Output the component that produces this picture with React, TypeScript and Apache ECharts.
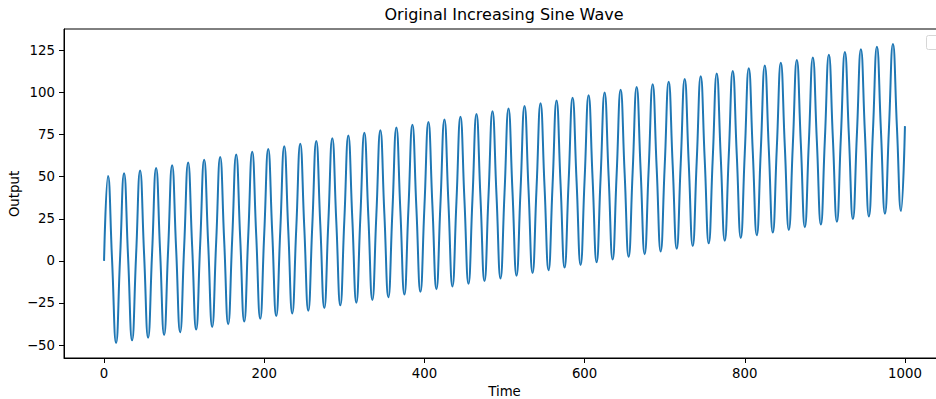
import React, { useEffect, useRef } from "react";
import * as echarts from "echarts";

// Values read from the picture: the wave is sampled at its quarter-period points
// (every 5 time units): midline crossings, peaks and troughs.
const sampleStep = 5;
const midValues = [
  0, 0.8, 1.6, 2.4, 3.2, 4, 4.8, 5.6, 6.4, 7.2, 8, 8.8, 9.6, 10.4, 11.2, 12, 12.8, 13.6, 14.4, 15.2,
  16, 16.8, 17.6, 18.4, 19.2, 20, 20.8, 21.6, 22.4, 23.2, 24, 24.8, 25.6, 26.4, 27.2, 28, 28.8, 29.6, 30.4, 31.2,
  32, 32.8, 33.6, 34.4, 35.2, 36, 36.8, 37.6, 38.4, 39.2, 40, 40.8, 41.6, 42.4, 43.2, 44, 44.8, 45.6, 46.4, 47.2,
  48, 48.8, 49.6, 50.4, 51.2, 52, 52.8, 53.6, 54.4, 55.2, 56, 56.8, 57.6, 58.4, 59.2, 60, 60.8, 61.6, 62.4, 63.2,
  64, 64.8, 65.6, 66.4, 67.2, 68, 68.8, 69.6, 70.4, 71.2, 72, 72.8, 73.6, 74.4, 75.2, 76, 76.8, 77.6, 78.4, 79.2,
  80,
];
const peakValues = [
  50.4, 52, 53.6, 55.2, 56.8, 58.4, 60, 61.6, 63.2, 64.8, 66.4, 68, 69.6, 71.2, 72.8, 74.4, 76, 77.6, 79.2, 80.8,
  82.4, 84, 85.6, 87.2, 88.8, 90.4, 92, 93.6, 95.2, 96.8, 98.4, 100, 101.6, 103.2, 104.8, 106.4, 108, 109.6, 111.2, 112.8,
  114.4, 116, 117.6, 119.2, 120.8, 122.4, 124, 125.6, 127.2, 128.8,
];
const troughValues = [
  -48.8, -47.2, -45.6, -44, -42.4, -40.8, -39.2, -37.6, -36, -34.4, -32.8, -31.2, -29.6, -28, -26.4, -24.8, -23.2, -21.6, -20, -18.4,
  -16.8, -15.2, -13.6, -12, -10.4, -8.8, -7.2, -5.6, -4, -2.4, -0.8, 0.8, 2.4, 4, 5.6, 7.2, 8.8, 10.4, 12, 13.6,
  15.2, 16.8, 18.4, 20, 21.6, 23.2, 24.8, 26.4, 28, 29.6,
];
const xTicks = [0, 200, 400, 600, 800, 1000];
const yTicks = [-50, -25, 0, 25, 50, 75, 100, 125];

function buildSeries(): [number, number][] {
  const out: [number, number][] = [];
  for (let k = 0; k < peakValues.length; k++) {
    const base = k * 4;
    out.push([base * sampleStep, midValues[2 * k]]);
    out.push([(base + 1) * sampleStep, peakValues[k]]);
    out.push([(base + 2) * sampleStep, midValues[2 * k + 1]]);
    out.push([(base + 3) * sampleStep, troughValues[k]]);
  }
  out.push([peakValues.length * 4 * sampleStep, midValues[midValues.length - 1]]);
  return out;
}

const FONT = "DejaVu Sans";
const TICK_FS = 13.3;

export default function App() {
  const ref = useRef<HTMLDivElement>(null);
  useEffect(() => {
    document.body.style.margin = "0";
    const chart = echarts.init(ref.current!, null, { renderer: "svg" });
    chart.setOption({
      animation: false,
      backgroundColor: "#ffffff",
      textStyle: { fontFamily: FONT },
      grid: {
        left: 64,
        top: 29,
        width: 881,
        height: 329,
        outerBoundsMode: "none",
        containLabel: false,
        show: true,
        borderColor: "#000",
        borderWidth: 1,
        backgroundColor: "transparent",
      },
      xAxis: {
        type: "value",
        min: -50,
        max: 1050,
        name: "Time",
        nameLocation: "middle",
        nameGap: 24,
        nameTextStyle: { fontSize: TICK_FS, color: "#000", fontFamily: FONT },
        axisLine: { show: true, onZero: false, lineStyle: { color: "#000", width: 1 } },
        axisTick: { show: true, customValues: xTicks, length: 5, lineStyle: { color: "#000", width: 1 } },
        axisLabel: {
          customValues: xTicks,
          margin: 9,
          fontSize: TICK_FS,
          color: "#000",
          fontFamily: FONT,
          formatter: (v: number) => String(v),
        },
        splitLine: { show: false },
      },
      yAxis: {
        type: "value",
        min: -57.68,
        max: 137.68,
        axisLine: { show: true, onZero: false, lineStyle: { color: "#000", width: 1 } },
        axisTick: { show: true, customValues: yTicks, length: 5, lineStyle: { color: "#000", width: 1 } },
        axisLabel: {
          customValues: yTicks,
          margin: 9,
          fontSize: TICK_FS,
          color: "#000",
          fontFamily: FONT,
          formatter: (v: number) => (v < 0 ? "\u2212" + String(-v) : String(v)),
        },
        splitLine: { show: false },
      },
      series: [
        {
          type: "line",
          data: buildSeries(),
          smooth: 0.5,
          showSymbol: false,
          symbol: "none",
          lineStyle: { color: "#1f77b4", width: 2 },
          clip: true,
        },
      ],
      graphic: [
        {
          type: "text",
          x: 504,
          y: 22,
          style: {
            text: "Original Increasing Sine Wave",
            font: `16px ${FONT}`,
            fill: "#000",
            textAlign: "center",
            textVerticalAlign: "bottom",
          },
        },
        {
          type: "text",
          x: 14,
          y: 194,
          rotation: Math.PI / 2,
          style: {
            text: "Output",
            font: `${TICK_FS}px ${FONT}`,
            fill: "#000",
            textAlign: "center",
            textVerticalAlign: "middle",
          },
        },
        {
          type: "rect",
          shape: { x: 926.5, y: 35.5, width: 30, height: 14, r: 2 },
          style: { fill: "#ffffff", stroke: "#d6d6d6", lineWidth: 1 },
        },
      ],
    });
    return () => chart.dispose();
  }, []);
  return <div ref={ref} style={{ width: 936, height: 399 }} />;
}
